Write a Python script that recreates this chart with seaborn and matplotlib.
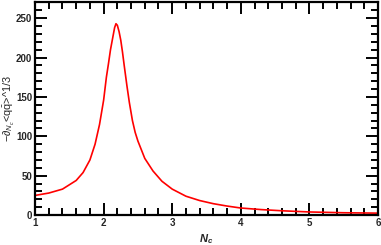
import numpy as np
import pandas as pd
import matplotlib
matplotlib.use("Agg")
import matplotlib.pyplot as plt
import seaborn as sns
from matplotlib.ticker import MultipleLocator

nc = [1.0, 1.2, 1.4, 1.6, 1.7, 1.8, 1.875, 1.94, 2.0, 2.04, 2.07, 2.10,
      2.13, 2.16, 2.18, 2.20, 2.225, 2.25, 2.275, 2.30, 2.34, 2.375, 2.42,
      2.46, 2.5, 2.6, 2.72, 2.85, 3.0, 3.2, 3.4, 3.6, 3.8, 4.0, 4.3, 4.6,
      5.0, 5.5, 6.0]
val = [25, 28, 33, 44, 54, 70, 90, 115, 146, 175, 192, 210,
       224, 238, 243, 241, 233, 222, 207, 190, 164, 143, 120,
       105, 94, 72, 56, 43, 33, 24, 18.5, 14.5, 11.5, 9, 7, 5.5,
       4, 3, 2.5]

df = pd.DataFrame({"Nc": nc, "v": val})

sns.set_style("ticks")
plt.rcParams['font.family'] = ['Liberation Sans', 'DejaVu Sans']
plt.rcParams['mathtext.fontset'] = 'custom'
plt.rcParams['mathtext.rm'] = 'Liberation Sans'
plt.rcParams['mathtext.it'] = 'Liberation Sans:italic'
plt.rcParams['mathtext.bf'] = 'Liberation Sans:bold'
plt.rcParams['mathtext.bfit'] = 'Liberation Sans:bold:italic'

fig = plt.figure(figsize=(3.81, 2.45), dpi=100)
ax = fig.add_axes([0.092, 0.122, 0.9, 0.868])
sns.lineplot(data=df, x="Nc", y="v", color="red", linewidth=1.2, ax=ax)

ax.set_xlim(1, 6)
ax.set_ylim(0, 270)
ax.xaxis.set_major_locator(MultipleLocator(1))
ax.xaxis.set_minor_locator(MultipleLocator(0.2))
ax.yaxis.set_major_locator(MultipleLocator(50))
ax.yaxis.set_minor_locator(MultipleLocator(10))
ax.tick_params(which="both", direction="in", top=True, right=True, width=1.4,
               labelsize=7, pad=2, color="black")
ax.tick_params(which="major", length=8.5)
ax.tick_params(which="minor", length=4.7)
for lab in ax.get_xticklabels() + ax.get_yticklabels():
    lab.set_fontweight("bold")
for s in ax.spines.values():
    s.set_linewidth(1.6)
    s.set_color("black")

ax.set_xlabel(r"$\mathbfit{N_c}$", fontsize=8)
ax.xaxis.set_label_coords(0.5, -0.08)
ax.set_ylabel(r"$-\partial_{N_c}$<q$\bar{\mathrm{q}}$>^1/3", fontsize=7.8)
ax.yaxis.set_label_coords(-0.052, 0.5)

fig.savefig("out.png", dpi=100)
